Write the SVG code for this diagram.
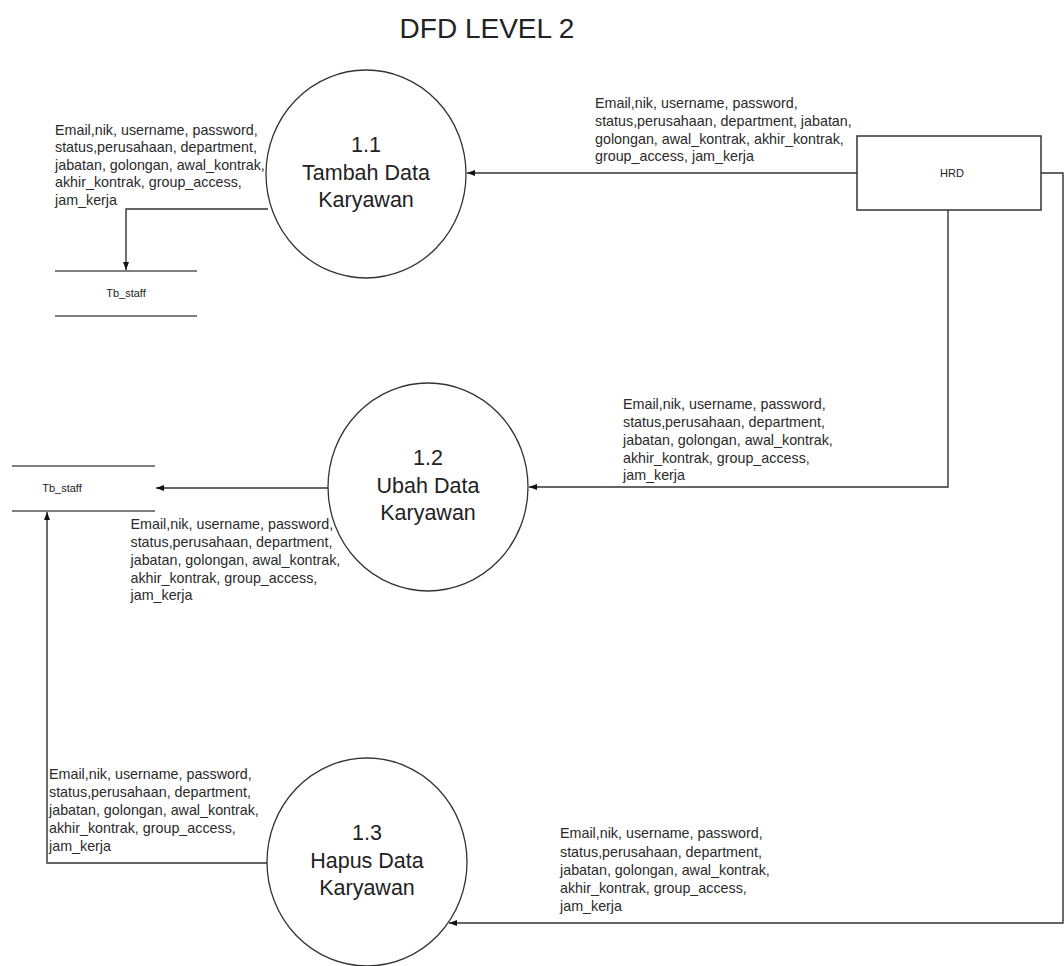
<svg xmlns="http://www.w3.org/2000/svg" width="1064" height="966" viewBox="0 0 1064 966">
<style>
.bg{fill:#ffffff}
.proc{fill:#ffffff;stroke:#333333;stroke-width:1.3}
.ent{fill:#ffffff;stroke:#333333;stroke-width:1.5}
.store{stroke:#555555;stroke-width:1.5}
.conn{fill:none;stroke:#333333;stroke-width:1.4}
.ptxt{font-family:"Liberation Sans",Arial,sans-serif;font-size:21.5px;fill:#222222;text-anchor:middle}
.lbl{font-family:"Liberation Sans",Arial,sans-serif;font-size:14.3px;fill:#2a2a2a}
.small{font-family:"Liberation Sans",Arial,sans-serif;font-size:11px;fill:#222222;text-anchor:middle}
.title{font-family:"Liberation Sans",Arial,sans-serif;font-size:28px;fill:#222222;text-anchor:middle}
</style>
<defs>
<marker id="arr" markerUnits="userSpaceOnUse" markerWidth="9" markerHeight="7" refX="8" refY="3" orient="auto">
<path d="M0,0 L8,3 L0,6 z" fill="#111111"/>
</marker>
</defs>
<rect class="bg" x="0" y="0" width="1064" height="966"/>
<text class="title" x="487" y="38">DFD LEVEL 2</text>

<g id="connectors">
<path class="conn" d="M268,209 L126,209 L126,270" marker-end="url(#arr)"/>
<path class="conn" d="M857,173 L467,173" marker-end="url(#arr)"/>
<path class="conn" d="M948,210 L948,487 L529,487" marker-end="url(#arr)"/>
<path class="conn" d="M328,488 L156,488" marker-end="url(#arr)"/>
<path class="conn" d="M267,863 L47,863 L47,512" marker-end="url(#arr)"/>
<path class="conn" d="M1041,173 L1063,173 L1063,923 L449,923" marker-end="url(#arr)"/>
</g>

<g id="label-hrd-11">
<text class="lbl" x="595" y="108">Email,nik, username, password,</text>
<text class="lbl" x="595" y="126">status,perusahaan, department, jabatan,</text>
<text class="lbl" x="595" y="143.5">golongan, awal_kontrak, akhir_kontrak,</text>
<text class="lbl" x="595" y="161">group_access, jam_kerja</text>
</g>
<g id="label-11-store">
<text class="lbl" x="55" y="134.5">Email,nik, username, password,</text>
<text class="lbl" x="55" y="152">status,perusahaan, department,</text>
<text class="lbl" x="55" y="169.5">jabatan, golongan, awal_kontrak,</text>
<text class="lbl" x="55" y="187">akhir_kontrak, group_access,</text>
<text class="lbl" x="55" y="205">jam_kerja</text>
</g>
<g id="label-hrd-12">
<text class="lbl" x="623" y="408.5">Email,nik, username, password,</text>
<text class="lbl" x="623" y="426.5">status,perusahaan, department,</text>
<text class="lbl" x="623" y="444.5">jabatan, golongan, awal_kontrak,</text>
<text class="lbl" x="623" y="462.5">akhir_kontrak, group_access,</text>
<text class="lbl" x="623" y="480">jam_kerja</text>
</g>
<g id="label-12-store">
<text class="lbl" x="130.5" y="529">Email,nik, username, password,</text>
<text class="lbl" x="130.5" y="547">status,perusahaan, department,</text>
<text class="lbl" x="130.5" y="565">jabatan, golongan, awal_kontrak,</text>
<text class="lbl" x="130.5" y="582.5">akhir_kontrak, group_access,</text>
<text class="lbl" x="130.5" y="600">jam_kerja</text>
</g>
<g id="label-13-store">
<text class="lbl" x="49" y="779">Email,nik, username, password,</text>
<text class="lbl" x="49" y="797">status,perusahaan, department,</text>
<text class="lbl" x="49" y="815">jabatan, golongan, awal_kontrak,</text>
<text class="lbl" x="49" y="833">akhir_kontrak, group_access,</text>
<text class="lbl" x="49" y="851">jam_kerja</text>
</g>
<g id="label-hrd-13">
<text class="lbl" x="560" y="838">Email,nik, username, password,</text>
<text class="lbl" x="560" y="856.5">status,perusahaan, department,</text>
<text class="lbl" x="560" y="875">jabatan, golongan, awal_kontrak,</text>
<text class="lbl" x="560" y="893">akhir_kontrak, group_access,</text>
<text class="lbl" x="560" y="911">jam_kerja</text>
</g>

<g id="p11">
<ellipse class="proc" cx="366" cy="174" rx="100" ry="104"/>
<text class="ptxt" x="366" y="152">1.1</text>
<text class="ptxt" x="366" y="180">Tambah Data</text>
<text class="ptxt" x="366" y="207">Karyawan</text>
</g>
<g id="p12">
<ellipse class="proc" cx="428" cy="487" rx="100" ry="104"/>
<text class="ptxt" x="428" y="465">1.2</text>
<text class="ptxt" x="428" y="493">Ubah Data</text>
<text class="ptxt" x="428" y="520">Karyawan</text>
</g>
<g id="p13">
<ellipse class="proc" cx="367" cy="862" rx="100" ry="104"/>
<text class="ptxt" x="367" y="840">1.3</text>
<text class="ptxt" x="367" y="868">Hapus Data</text>
<text class="ptxt" x="367" y="895">Karyawan</text>
</g>
<g id="hrd">
<rect class="ent" x="857" y="136" width="184" height="74"/>
<text class="small" x="952" y="177">HRD</text>
</g>
<g id="store1">
<line class="store" x1="55" y1="271" x2="197" y2="271"/>
<line class="store" x1="55" y1="316" x2="197" y2="316"/>
<text class="small" x="126" y="297">Tb_staff</text>
</g>
<g id="store2">
<line class="store" x1="12" y1="466" x2="155" y2="466"/>
<line class="store" x1="12" y1="511" x2="155" y2="511"/>
<text class="small" x="62" y="492">Tb_staff</text>
</g>
</svg>
